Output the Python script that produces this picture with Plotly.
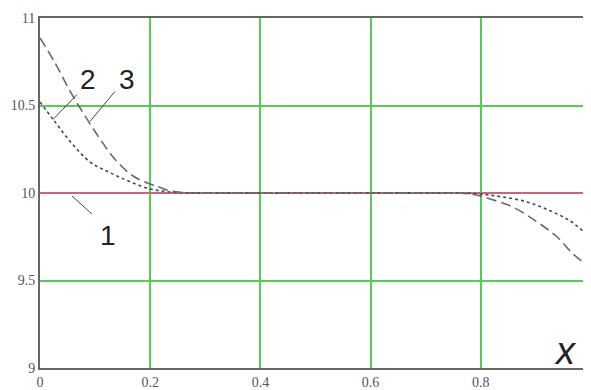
import plotly.graph_objects as go

# Curve 1: constant T = 10
x1 = [0.0, 1.0]
t1 = [10.0, 10.0]

# Curve 2: dotted
x2 = [0.0, 0.024, 0.056, 0.091, 0.114, 0.14, 0.169, 0.20, 0.223, 0.25, 0.28,
      0.74, 0.78, 0.81, 0.84, 0.884, 0.926, 0.962, 0.985, 1.0]
t2 = [10.52, 10.42, 10.29, 10.176, 10.136, 10.097, 10.057, 10.023, 10.011, 10.002, 10.0,
      10.0, 9.998, 9.99, 9.977, 9.949, 9.898, 9.841, 9.784, 9.75]

# Curve 3: dashed
x3 = [0.0, 0.027, 0.054, 0.080, 0.107, 0.136, 0.169, 0.20, 0.218, 0.236, 0.26, 0.28,
      0.74, 0.77, 0.79, 0.817, 0.858, 0.902, 0.938, 0.967, 0.993, 1.0]
t3 = [10.886, 10.745, 10.585, 10.449, 10.318, 10.193, 10.097, 10.051, 10.032, 10.012, 10.002, 10.0,
      10.0, 9.998, 9.99, 9.966, 9.92, 9.835, 9.75, 9.653, 9.585, 9.565]

x_ticks = [0, 0.2, 0.4, 0.6, 0.8]
x_tick_labels = ["0", "0.2", "0.4", "0.6", "0.8"]
y_ticks = [9, 9.5, 10, 10.5, 11]
y_tick_labels = ["9", "9.5", "10", "10.5", "11"]

fig = go.Figure()
fig.add_trace(go.Scatter(x=x1, y=t1, mode="lines",
                         line=dict(color="#c8667a", width=2), showlegend=False))
fig.add_trace(go.Scatter(x=x2, y=t2, mode="lines", line_shape="spline",
                         line=dict(color="#44465a", width=1.6, dash="dot"), showlegend=False))
fig.add_trace(go.Scatter(x=x3, y=t3, mode="lines", line_shape="spline",
                         line=dict(color="#6a6a6a", width=1.6, dash="10px,5px"), showlegend=False))

tickfont = dict(family="Liberation Serif", size=14, color="#555555")
fig.update_xaxes(range=[0, 1.0], tickvals=x_ticks, ticktext=x_tick_labels,
                 showgrid=True, gridcolor="#55cc55", gridwidth=1.5,
                 showline=True, linecolor="#666666", linewidth=2, mirror=True,
                 zeroline=False, ticks="", tickfont=tickfont)
fig.update_yaxes(range=[9, 11], tickvals=y_ticks, ticktext=y_tick_labels,
                 showgrid=True, gridcolor="#55cc55", gridwidth=1.5,
                 showline=True, linecolor="#666666", linewidth=2, mirror=False,
                 zeroline=False, ticks="", tickfont=tickfont)

lab = dict(family="Liberation Sans", size=28, color="#222222")
big = dict(family="Liberation Sans", size=38, color="#222222")
ann = [
    dict(x=-0.04, y=10.79, text="<i>T</i>", font=big),
    dict(x=0.953, y=9.10, text="<i>x</i>", font=big),
    dict(x=0.087, y=10.648, text="2", font=lab),
    dict(x=0.158, y=10.648, text="3", font=lab),
    dict(x=0.123, y=9.756, text="1", font=lab),
]
for a in ann:
    a.update(xref="x", yref="y", showarrow=False, xanchor="center", yanchor="middle")

line_style = dict(color="#444444", width=1)
shapes = [
    dict(type="line", xref="x", yref="y", x0=0.067, y0=10.5625, x1=0.0236, y1=10.42, line=line_style),
    dict(type="line", xref="x", yref="y", x0=0.136, y0=10.58, x1=0.0907, y1=10.409, line=line_style),
    dict(type="line", xref="x", yref="y", x0=0.058, y0=9.983, x1=0.094, y1=9.881, line=line_style),
]

# page body adds an 8px offset; figure sized so the plot lands where the reference has it
fig.update_layout(width=583, height=382, margin=dict(l=32, r=0, t=10, b=20),
                  plot_bgcolor="white", paper_bgcolor="white",
                  annotations=ann, shapes=shapes)

fig.write_html("out.html")
